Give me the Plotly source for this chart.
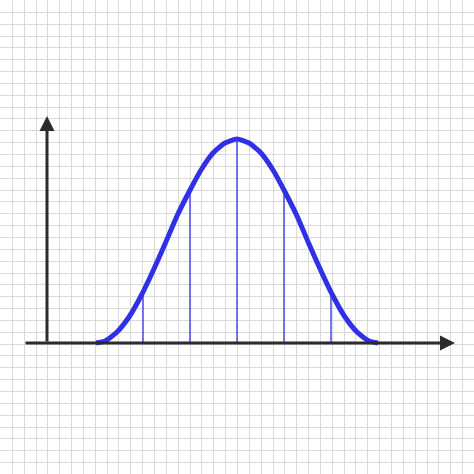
import plotly.graph_objects as go

curve_x = [96, 105, 117, 129, 141, 153, 165, 177, 189, 201, 213, 225, 237,
           249, 261, 273, 285, 297, 309, 321, 333, 345, 357, 369, 378]
curve_h = [0, 2, 11, 26, 47, 72, 99, 127, 151, 173, 190, 200, 204,
           200, 190, 173, 151, 127, 99, 72, 47, 26, 11, 2, 0]
drop_x = [143, 190, 237, 284, 331]
drop_h = [51, 153, 204, 153, 51]

base = 343
blue = "#3030e6"
dark = "#2b2b2b"

fig = go.Figure()
for x, h in zip(drop_x, drop_h):
    fig.add_trace(go.Scatter(x=[x, x], y=[base, base - h], mode="lines",
                             line=dict(color=blue, width=1.3), hoverinfo="skip"))
fig.add_trace(go.Scatter(x=curve_x, y=[base - h for h in curve_h], mode="lines",
                         line=dict(color=blue, width=5, shape="spline", smoothing=0.6)))

# axes with arrows
fig.add_annotation(x=455, y=base, ax=24, ay=base, xref="x", yref="y", axref="x", ayref="y",
                   showarrow=True, arrowhead=2, arrowsize=1, arrowwidth=3, arrowcolor=dark, text="")
fig.add_annotation(x=47, y=116, ax=47, ay=base, xref="x", yref="y", axref="x", ayref="y",
                   showarrow=True, arrowhead=2, arrowsize=1, arrowwidth=3, arrowcolor=dark, text="")

grid = dict(showgrid=True, gridcolor="#d9d9d9", gridwidth=1, tick0=12.3, dtick=11.85,
            showticklabels=False, zeroline=False, showline=False, ticks="")
fig.update_xaxes(range=[0, 474], **grid)
fig.update_yaxes(range=[474, 0], **grid)
fig.update_layout(width=474, height=474, margin=dict(l=0, r=0, t=0, b=0),
                  paper_bgcolor="white", plot_bgcolor="white", showlegend=False)
fig.write_html("out.html", config={"displayModeBar": False},
               post_script="document.body.style.margin='0';")
